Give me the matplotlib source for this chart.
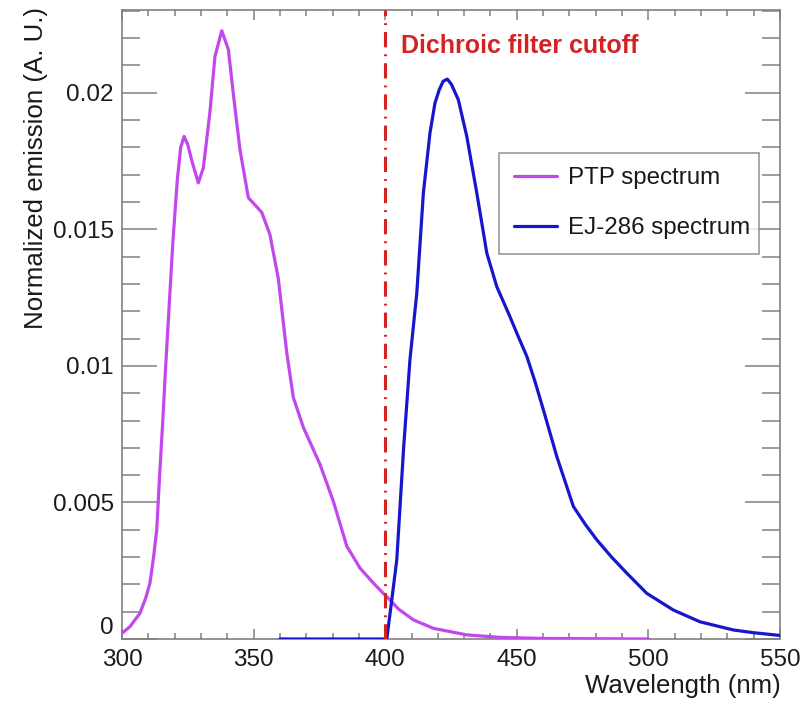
import matplotlib
matplotlib.use("Agg")
import matplotlib.pyplot as plt
from matplotlib.ticker import MultipleLocator, FuncFormatter

plt.rcParams['font.family'] = ['Liberation Sans', 'DejaVu Sans']

# ---- data ----
ptp_nm = [300, 303, 306.8, 309, 310.6, 312, 313.2, 314.3, 315.5, 316.6, 317.8, 319.3,
          321.0, 322.3, 323.6, 325.0, 326.5, 329.0, 330.9, 333.4, 335.3, 337.9, 340.4,
          342.3, 344.8, 348.0, 353.1, 356.2, 359.4, 362.6, 365.1, 368.9, 375.2, 380.3,
          385.4, 390.4, 395, 399.3, 401.8, 405, 410.7, 418.3, 431, 443.6, 460, 480, 500]
ptp_val = [0.00021, 0.00045, 0.00094, 0.0015, 0.00204, 0.0030, 0.0040, 0.0060,
           0.0080, 0.0100, 0.0120, 0.0145, 0.0168, 0.0180, 0.0184, 0.0181, 0.01752,
           0.01670, 0.01725, 0.01928, 0.02132, 0.02227, 0.02159, 0.01996, 0.01793,
           0.01616, 0.01562, 0.01481, 0.01319, 0.01048, 0.00884, 0.00775, 0.0064,
           0.00504, 0.0034, 0.0026, 0.0021, 0.00167, 0.00143, 0.0011, 0.0007, 0.00039,
           0.00015, 0.00006, 0.00002, 0.00001, 0.0]

ej_nm = [360, 380, 399, 400.6, 402.5, 404.4, 407, 409.4, 412.0, 414.5, 417.0, 418.9,
         420.5, 422.0, 423.6, 425.2, 427.8, 431.0, 434.8, 438.6, 442.4, 447.4, 450,
         453.8, 457, 460.1, 465.2, 471.5, 476, 480.4, 486, 491.8, 499.4, 509.5, 519.6,
         532.3, 540, 550]
ej_val = [0.0, 0.0, 0.0, 0.0, 0.00143, 0.0029, 0.0070, 0.01022, 0.01266, 0.01633,
          0.01852, 0.01962, 0.0201, 0.02042, 0.0205, 0.0203, 0.01974, 0.0184, 0.01633,
          0.01413, 0.0129, 0.0118, 0.0112, 0.01035, 0.0094, 0.00839, 0.00668, 0.00485,
          0.0042, 0.00363, 0.0030, 0.00241, 0.00167, 0.00106, 0.00063, 0.00033,
          0.00023, 0.00013]

cutoff_nm = 400
x_range = (300, 550)
y_range = (0, 0.02303)
labels = ["PTP spectrum", "EJ-286 spectrum"]

# ---- figure ----
fig = plt.figure(figsize=(8.07, 7.03), dpi=100)
ax = fig.add_axes([122/807, 1-639/703, 658/807, 629/703])

ptp_col = '#c247ec'
ej_col = '#1616cc'
red = '#d42222'
frame = '#808080'
txt = '#1a1a1a'

ax.plot(ptp_nm, ptp_val, color=ptp_col, lw=2.3, label=labels[0], zorder=3,
        solid_joinstyle='round', solid_capstyle='round')
ax.plot(ej_nm, ej_val, color=ej_col, lw=2.3, label=labels[1], zorder=3,
        solid_joinstyle='round', solid_capstyle='round')
ax.axvline(cutoff_nm, color=red, lw=2.2, linestyle=(0, (5.0, 2.3, 0.6, 2.3)), zorder=4)

ax.set_xlim(*x_range)
ax.set_ylim(*y_range)

ax.xaxis.set_major_locator(MultipleLocator(50))
ax.xaxis.set_minor_locator(MultipleLocator(10))
ax.yaxis.set_major_locator(MultipleLocator(0.005))
ax.yaxis.set_minor_locator(MultipleLocator(0.001))
ax.yaxis.set_major_formatter(FuncFormatter(lambda v, p: '0' if v == 0 else ('%g' % v)))

for s in ax.spines.values():
    s.set_color(frame)
    s.set_linewidth(1.2)

ax.tick_params(axis='both', which='both', direction='in', top=True, right=True,
               color=frame, width=1.1, labelcolor=txt, labelsize=17.5)
ax.tick_params(axis='y', which='major', length=25, pad=6)
ax.tick_params(axis='y', which='minor', length=13)
ax.tick_params(axis='x', which='major', length=7.5, pad=7)
ax.tick_params(axis='x', which='minor', length=4.5)

# raise the "0" label like the reference so it sits just above "300"
fig.canvas.draw()
for tk in ax.yaxis.get_major_ticks():
    if abs(tk.get_loc()) < 1e-12:
        tk.label1.set_verticalalignment('bottom')

fig.text(781/807, 1-674/703, "Wavelength (nm)", ha='right', va='top',
         fontsize=18.6, color=txt)
fig.text(48/807, 1-7/703, "Normalized emission (A. U.)", ha='right', va='top',
         rotation=90, fontsize=18.6, color=txt)

ax.text(406, 0.0217, "Dichroic filter cutoff", color=red, fontsize=18,
        fontweight='bold', ha='left', va='center')

leg = ax.legend(loc='upper left', bbox_to_anchor=(0.573, 0.4, 0.395, 0.373),
                mode='expand', fontsize=17.4, frameon=True, fancybox=False,
                handlelength=1.8, handletextpad=0.45, borderpad=0.6,
                labelspacing=1.15, borderaxespad=0)
leg.get_frame().set_edgecolor(frame)
leg.get_frame().set_linewidth(1.2)
for t in leg.get_texts():
    t.set_color(txt)

fig.savefig("out.png", dpi=100)
